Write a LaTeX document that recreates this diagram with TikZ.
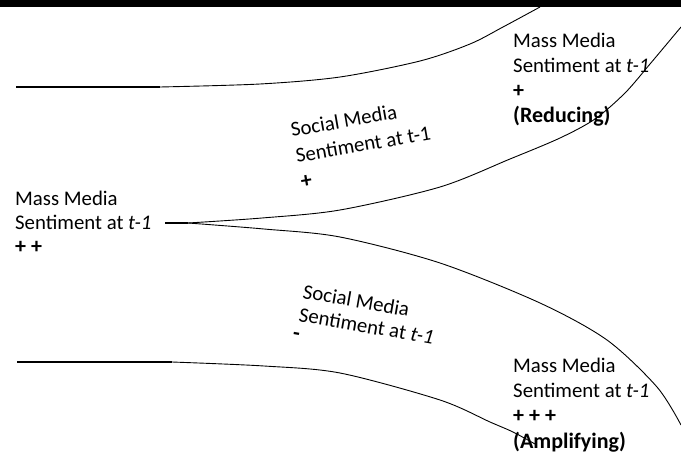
\documentclass[tikz,border=0pt]{standalone}
\usepackage{fontspec}
\setmainfont{Carlito}
\begin{document}
\begin{tikzpicture}[x=1pt,y=-1pt,
  txt/.style={anchor=base west, inner sep=0pt, font=\fontsize{20.8}{24}\selectfont},
  btxt/.style={anchor=base west, inner sep=0pt, font=\fontsize{22}{24}\selectfont\bfseries},
  curve/.style={line width=0.9pt},
  flat/.style={line width=1.4pt}]
\useasboundingbox (0,0) rectangle (681,460);
\fill[black] (0,0) rectangle (681,7);

% named points
\coordinate (a0) at (16,87);
\coordinate (a1) at (160,87);
\coordinate (a2) at (540,7);
\coordinate (m0) at (165,223);
\coordinate (m1) at (188,223);
\coordinate (b2) at (681,27);
\coordinate (c2) at (681,425);
\coordinate (d0) at (17,362);
\coordinate (d1) at (172,362);
\coordinate (d2) at (535,444);

% top-left branch
\draw[flat] (a0) -- (a1);
\draw[curve] plot[smooth] coordinates {(a1) (260,84) (340,77) (420,61) (470,44) (503,27) (a2)};

% central stem and its two branches
\draw[line width=1.2pt] (m0) -- (m1);
\draw[curve] plot[smooth] coordinates {(m1) (262,218) (340,210) (440,187) (510,159) (560,138) (595,119) (625,93) (650,64) (b2)};
\draw[curve] plot[smooth] coordinates {(m1) (264,229) (340,237) (440,263) (540,303) (607,340) (657,387) (c2)};

% bottom-left branch
\draw[flat] (d0) -- (d1);
\draw[curve] plot[smooth] coordinates {(d1) (264,366) (340,373) (440,400) (490,422) (513,432) (d2)};

% left labels
\node[txt] (l1) at (15,205) {Mass Media};
\node[txt] (l2) at (15,229) {Sentiment at \textit{t-1}};
\node[btxt] (l3) at (15,253) {+ +};

% top-right labels
\node[txt] (r1) at (513,48) {Mass Media};
\node[txt] (r2) at (513,73) {Sentiment at \textit{t-1}};
\node[btxt] (r3) at (513,98) {+};
\node[btxt] (r4) at (513,123) {(Reducing)};

% bottom-right labels
\node[txt] (s1) at (513,372) {Mass Media};
\node[txt] (s2) at (513,397) {Sentiment at \textit{t-1}};
\node[btxt] (s3) at (513,422) {+ + +};
\node[btxt] (s4) at (513,448) {(Amplifying)};

% upper social media label (rotated)
\node[txt, rotate=10] (u1) at (292,137) {Social Media};
\node[txt, rotate=10] (u2) at (297,163) {Sentiment at t-1};
\node[btxt, rotate=10] (u3) at (302,189) {+};

% lower social media label (rotated)
\node[txt, rotate=-10] (w1) at (302,298) {Social Media};
\node[txt, rotate=-10] (w2) at (298,321) {Sentiment at \textit{t-1}};
\node[btxt, rotate=-10] (w3) at (292,339) {-};
\end{tikzpicture}
\end{document}
